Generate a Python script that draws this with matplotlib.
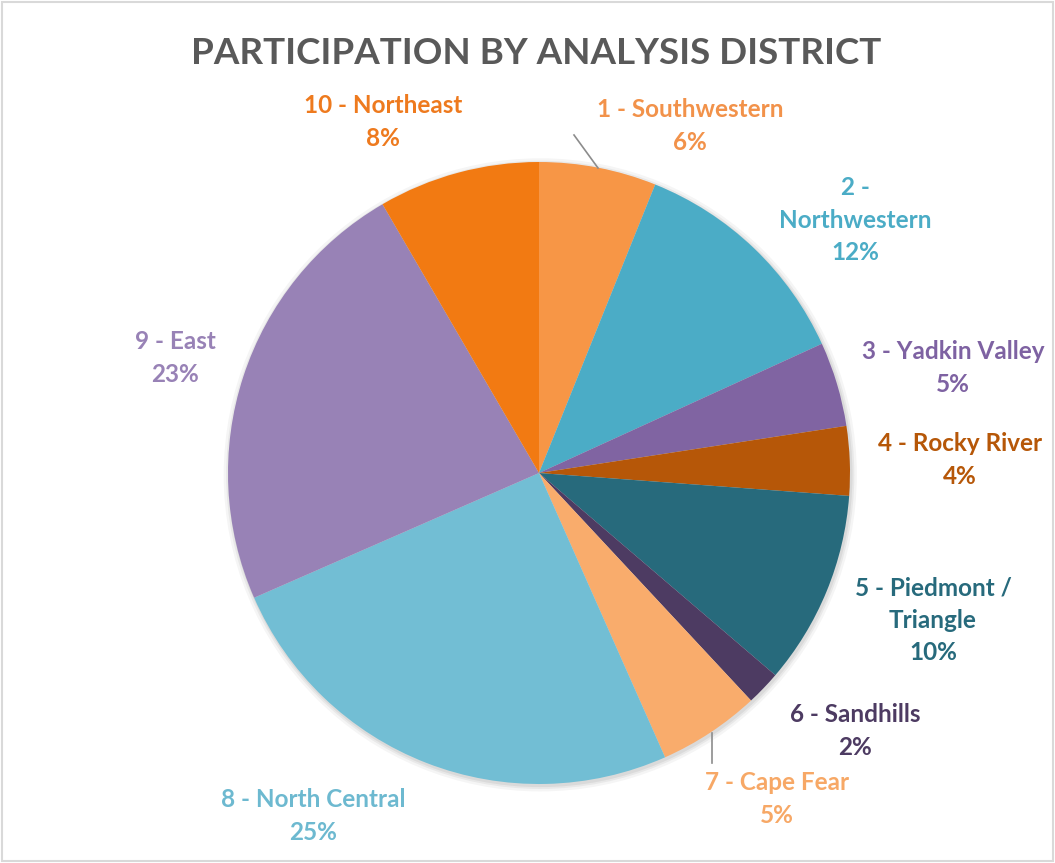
import matplotlib
matplotlib.use("Agg")
import matplotlib.pyplot as plt
from matplotlib.patches import Rectangle

districts = ["1 - Southwestern", "2 -\nNorthwestern", "3 - Yadkin Valley", "4 - Rocky River",
             "5 - Piedmont /\nTriangle", "6 - Sandhills", "7 - Cape Fear", "8 - North Central",
             "9 - East", "10 - Northeast"]
shares = [6.1, 12.1, 4.4, 3.6, 10.1, 1.8, 5.3, 25.1, 23.2, 8.4]
pct_labels = ["6%", "12%", "5%", "4%", "10%", "2%", "5%", "25%", "23%", "8%"]
colors = ["#F79646", "#4BACC6", "#8064A2", "#B65708", "#276A7C",
          "#4D3B62", "#F9AC6C", "#72BED4", "#9882B6", "#F27A12"]
text_colors = ["#F2924A", "#4BACC6", "#7E62A2", "#B65708", "#276A7C",
               "#4D3B62", "#F7A866", "#6DB9D0", "#9882B6", "#EE7A1E"]

W, H = 1055, 863
cx, cy, R = 539, 473, 311
fig = plt.figure(figsize=(W / 100, H / 100), dpi=100)
ax = fig.add_axes([0, 0, 1, 1])

def px(x, y):
    return (x - cx) / R, (cy - y) / R

# subtle shadow
for r, a in [(1.018, 0.04), (1.010, 0.05), (1.004, 0.06)]:
    ax.add_patch(plt.Circle((0.004, -0.006), r, color="black", alpha=a, lw=0, zorder=0))

ax.pie(shares, colors=colors, startangle=90, counterclock=False, radius=1.0,
       wedgeprops=dict(linewidth=0), center=(0, 0))
ax.set_xlim(-cx / R, (W - cx) / R)
ax.set_ylim(-(H - cy) / R, cy / R)
ax.set_aspect("equal")
ax.axis("off")

label_pos = [(690, 126), (855, 220), (953, 368), (960, 460), (933, 620),
             (855, 731), (777, 799), (313, 816), (175, 358), (383, 122)]
font = dict(family=["Lato", "DejaVu Sans"], fontsize=17.5, fontweight="bold")
for name, pct, col, (x, y) in zip(districts, pct_labels, text_colors, label_pos):
    ax.text(*px(x, y), f"{name}\n{pct}", color=col, ha="center", va="center",
            linespacing=1.5, **font)

# leader lines
ax.plot(*zip(px(598, 168), px(574, 135)), color="#8C8C8C", lw=1.2)
ax.plot(*zip(px(712, 733), px(712, 763)), color="#8C8C8C", lw=1.2)

fig.text(536 / W, 1 - 54 / H, "PARTICIPATION BY ANALYSIS DISTRICT", ha="center", va="center",
         color="#595959", fontsize=26.5, fontweight="bold", family=["Lato", "DejaVu Sans"])

fig.patches.append(Rectangle((0.002, 0.002), 0.996, 0.996, transform=fig.transFigure,
                             fill=False, edgecolor="#D9D9D9", lw=1.5))
fig.savefig("out.png", dpi=100, facecolor="white")
